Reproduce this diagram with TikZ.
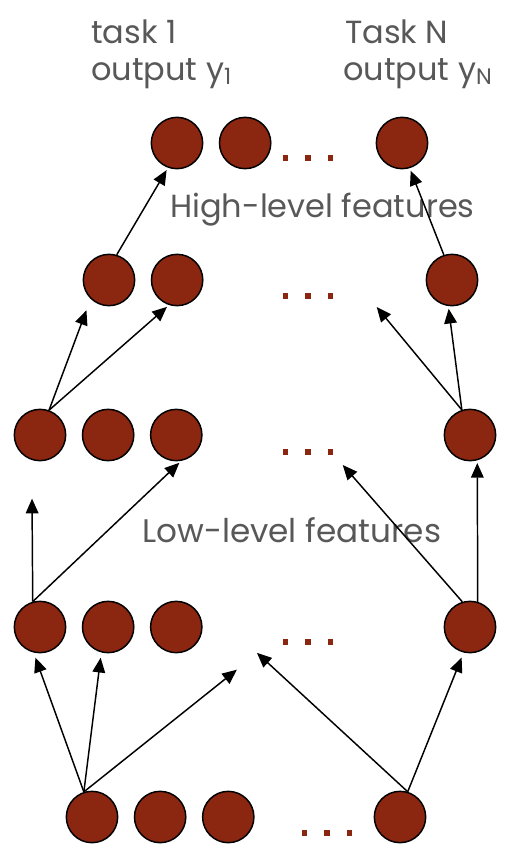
\documentclass[tikz,border=0pt]{standalone}
\usepackage{fontspec}
\setmainfont{Poppins}
\usepackage{tikz}
\usetikzlibrary{positioning,arrows.meta}
\definecolor{unitred}{RGB}{139,38,16}
\definecolor{labelgray}{RGB}{88,88,88}
\tikzset{
  unit/.style={draw, circle, line width=1.1pt, fill=unitred, minimum size=38.5pt, inner sep=0pt},
  link/.style={-{Triangle[length=11pt,width=9.5pt]}, line width=1.1pt, shorten >=2pt},
  caption/.style={text=labelgray, font=\fontsize{24}{28}\selectfont, inner sep=0pt, anchor=base west},
  pics/dots/.style={
    code={
      \foreach \d in {-1,0,1} {
        \fill [unitred] (\d*17pt-1.9pt, -1.9pt) rectangle ++(3.8pt, 3.8pt);
      }
    }
  }
}
\begin{document}
\begin{tikzpicture}[x=0.75pt, y=-0.75pt]
  \useasboundingbox (0,0) rectangle (527,860);
  \def\gap{11.5pt}

  \draw node (t1) [unit] at (177,143) {};
  \draw node (t2) [unit, right = \gap of t1] {};
  \draw node (t3) [unit] at (402,143) {};

  \draw node (r2a) [unit] at (109,280) {};
  \draw node (r2b) [unit, right = \gap of r2a] {};
  \draw node (r2c) [unit] at (452,280) {};

  \draw node (r3a) [unit] at (40,435) {};
  \draw node (r3b) [unit, right = \gap of r3a] {};
  \draw node (r3c) [unit, right = \gap of r3b] {};
  \draw node (r3d) [unit] at (470,435) {};

  \draw node (r4a) [unit] at (40,627) {};
  \draw node (r4b) [unit, right = \gap of r4a] {};
  \draw node (r4c) [unit, right = \gap of r4b] {};
  \draw node (r4d) [unit] at (470,627) {};

  \draw node (r5a) [unit] at (92,817) {};
  \draw node (r5b) [unit, right = \gap of r5a] {};
  \draw node (r5c) [unit, right = \gap of r5b] {};
  \draw node (r5d) [unit] at (400,817) {};

  \coordinate (d1) at (308,158);
  \coordinate (d2) at (308,296);
  \coordinate (d3) at (308,452);
  \coordinate (d4) at (308,642);
  \coordinate (d5) at (327,833);
  \foreach \c in {d1,d2,d3,d4,d5}
    \pic at (\c) {dots};

  \draw node (out1) [caption] at (91,43) {task 1};
  \draw node (out1y) [caption] at (91,80) {output y\textsubscript{1}};
  \draw node (outn) [caption] at (345,43) {Task N};
  \draw node (outny) [caption] at (343,80) {output y\textsubscript{N}};
  \draw node (high) [caption] at (170,217) {High-level features};
  \draw node (low) [caption, font=\fontsize{24.5}{28}\selectfont] at (142,542) {Low-level features};

  \coordinate (f1) at (375,305);
  \coordinate (f2) at (32,496);
  \coordinate (f3) at (341,463);
  \coordinate (f4) at (239,668);
  \coordinate (f5) at (255,651);

  \draw[link] (r2a.73) -- (t1.250);
  \draw[link] (r2c.108) -- (t3.287);
  \draw[link, shorten >=9pt] (r3a.70) -- (r2a.226);
  \draw[link] (r3a.70) -- (r2b.252);
  \draw[link] (r3d.108) -- (f1);
  \draw[link] (r3d.108) -- (r2c.262);
  \draw[link] (r4a.106) -- (f2);
  \draw[link] (r4a.106) -- (r3c.281);
  \draw[link] (r4d.107) -- (f3);
  \draw[link] (r4d.73) -- (r3d.286);
  \draw[link, shorten >=4pt] (r5a.108) -- (r4a.256);
  \draw[link, shorten >=4pt] (r5a.108) -- (r4b.255);
  \draw[link] (r5a.108) -- (f4);
  \draw[link] (r5d.73) -- (f5);
  \draw[link, shorten >=4pt] (r5d.73) -- (r4d.256);
\end{tikzpicture}
\end{document}
